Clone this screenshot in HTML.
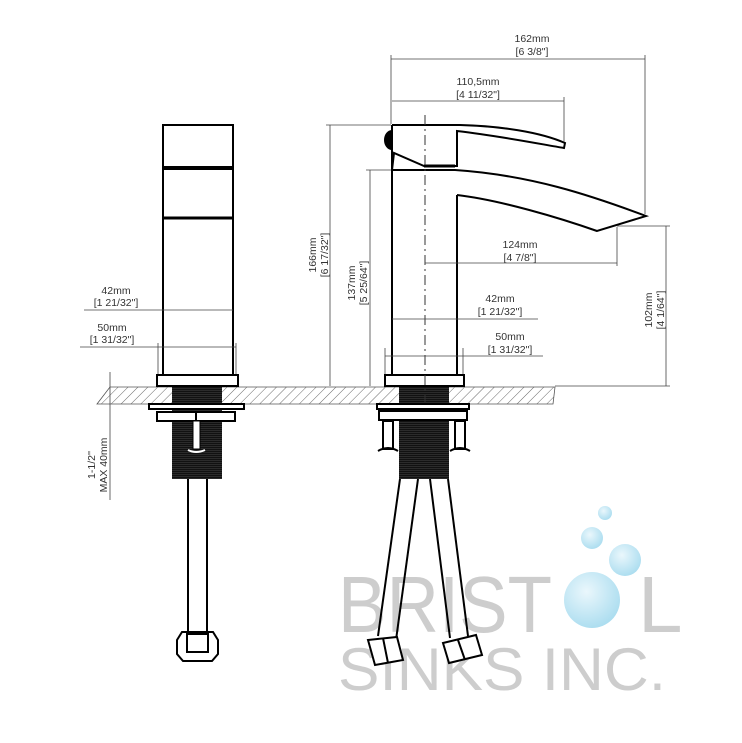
<!DOCTYPE html>
<html><head><meta charset="utf-8"><style>
html,body{margin:0;padding:0;background:#fff;}
svg{display:block;}
text{font-family:"Liberation Sans",sans-serif;}
.d{font-family:"DejaVu Sans Mono","Liberation Mono",monospace;font-size:10.5px;fill:#333;}
</style></head><body>
<svg width="742" height="743" viewBox="0 0 742 743" xmlns="http://www.w3.org/2000/svg">
<defs>
<pattern id="h" width="7" height="7" patternUnits="userSpaceOnUse" patternTransform="rotate(45)">
<line x1="0" y1="0" x2="0" y2="7" stroke="#444" stroke-width="0.8"/></pattern>
<pattern id="t" width="4" height="2" patternUnits="userSpaceOnUse">
<rect width="4" height="2" fill="#111"/><line x1="0" y1="0.5" x2="4" y2="0.5" stroke="#444" stroke-width="0.5"/></pattern>
<radialGradient id="b" cx="0.4" cy="0.35" r="0.7"><stop offset="0" stop-color="#eaf7fc"/><stop offset="1" stop-color="#a9dcef"/></radialGradient>
</defs>
<rect width="742" height="743" fill="#fff"/>

<!-- logo -->
<g fill="#cdcdcd">
<text x="338" y="632" font-size="80" textLength="214" lengthAdjust="spacingAndGlyphs">BRIST</text>
<text x="638" y="632" font-size="80">L</text>
<text x="338" y="690" font-size="60" textLength="328" lengthAdjust="spacingAndGlyphs">SINKS INC.</text>
</g>
<circle cx="592" cy="600" r="28" fill="url(#b)"/>
<circle cx="625" cy="560" r="16" fill="url(#b)"/>
<circle cx="592" cy="538" r="11" fill="url(#b)"/>
<circle cx="605" cy="513" r="7" fill="url(#b)"/>

<!-- countertop -->
<polygon points="110,387 555,387 553,404 97,404" fill="url(#h)" stroke="#555" stroke-width="0.8"/>

<g stroke="#000" fill="none" stroke-width="2">
<!-- left view body -->
<rect x="163" y="125" width="70" height="42" fill="#fff"/>
<rect x="163" y="169" width="70" height="206" fill="#fff"/>
<line x1="163" y1="218" x2="233" y2="218" stroke-width="3"/>
<rect x="157" y="375" width="81" height="11" fill="#fff"/>
<rect x="172" y="387" width="50" height="92" fill="url(#t)" stroke="none"/>
<rect x="149" y="404" width="95" height="5" fill="#fff"/>
<rect x="157" y="412" width="78" height="9" fill="#fff"/>
<line x1="196" y1="412" x2="196" y2="421"/>
<rect x="193" y="421" width="7" height="28" fill="#fff" stroke-width="1"/>
<path d="M188 450 q8 4 17 0" stroke="#fff"/>
<line x1="188" y1="479" x2="188" y2="632"/>
<line x1="207" y1="479" x2="207" y2="632"/>
<polygon points="182,632 213,632 218,640 218,654 212,661 183,661 177,654 177,640" fill="#fff"/>
<rect x="187" y="634" width="21" height="18"/>

<!-- right view -->
<line x1="392" y1="170" x2="392" y2="375"/>
<line x1="457" y1="195" x2="457" y2="375"/>
<rect x="385" y="375" width="79" height="11" fill="#fff"/>
<path d="M392 170 L455 170 C530 175 590 195 646 216 L597 231 C560 218 500 200 457 195" fill="#fff"/>
<path d="M392 125 L460 125 C500 126 540 132 565 143 L564 148 C540 144 500 136 457 131 L457 166 L424 166 L394 153 L392 170"/>
<path d="M392 131 A7 9 0 0 0 392 149 Z" fill="#000"/>
<line x1="392" y1="125" x2="392" y2="170"/>
<line x1="424" y1="166" x2="455" y2="166" stroke-width="3"/>
<rect x="399" y="387" width="50" height="92" fill="url(#t)" stroke="none"/>
<rect x="377" y="404" width="92" height="5" fill="#fff"/>
<rect x="379" y="411" width="88" height="9" fill="#fff"/>
<rect x="383" y="421" width="10" height="28" fill="#fff"/>
<rect x="455" y="421" width="10" height="28" fill="#fff"/>
<path d="M378 451 q10 -6 20 0"/><path d="M450 451 q10 -6 20 0"/>
<line x1="400" y1="479" x2="378" y2="636"/>
<line x1="418" y1="479" x2="396" y2="640"/>
<line x1="430" y1="479" x2="450" y2="638"/>
<line x1="448" y1="479" x2="468" y2="636"/>
<polygon points="368,640 397,637 403,660 375,665" fill="#fff"/>
<line x1="383" y1="638" x2="388" y2="663"/>
<polygon points="443,643 476,635 482,655 449,663" fill="#fff"/>
<line x1="458" y1="640" x2="465" y2="660"/>
</g>
<line x1="425" y1="115" x2="425" y2="402" stroke="#333" stroke-width="1" stroke-dasharray="10,4,2,4"/>

<!-- dimension lines -->
<g stroke="#444" stroke-width="0.8" fill="none">
<line x1="391" y1="55" x2="391" y2="124"/><line x1="645" y1="55" x2="645" y2="214"/><line x1="391" y1="59" x2="645" y2="59"/>
<line x1="564" y1="97" x2="564" y2="142"/><line x1="392" y1="101" x2="564" y2="101"/>
<line x1="326" y1="125" x2="391" y2="125"/><line x1="330" y1="125" x2="330" y2="386"/>
<line x1="366" y1="170" x2="391" y2="170"/><line x1="370" y1="170" x2="370" y2="386"/>
<line x1="617" y1="227" x2="617" y2="266"/><line x1="425" y1="263" x2="617" y2="263"/>
<line x1="617" y1="226" x2="670" y2="226"/><line x1="666" y1="226" x2="666" y2="386"/><line x1="555" y1="386" x2="670" y2="386"/>
<line x1="392" y1="319" x2="538" y2="319"/>
<line x1="385" y1="348" x2="385" y2="374"/><line x1="463" y1="348" x2="463" y2="374"/><line x1="385" y1="356" x2="543" y2="356"/>
<line x1="84" y1="310" x2="233" y2="310"/>
<line x1="80" y1="347" x2="236" y2="347"/><line x1="158" y1="343" x2="158" y2="374"/><line x1="236" y1="343" x2="236" y2="374"/>
<line x1="110" y1="372" x2="110" y2="500"/>
</g>
<g class="d" text-anchor="middle">
<text x="532" y="42">162mm</text><text x="532" y="55">[6 3/8"]</text>
<text x="478" y="85">110,5mm</text><text x="478" y="98">[4 11/32"]</text>
<text x="520" y="248">124mm</text><text x="520" y="261">[4 7/8"]</text>
<text x="500" y="302">42mm</text><text x="500" y="315">[1 21/32"]</text>
<text x="510" y="340">50mm</text><text x="510" y="353">[1 31/32"]</text>
<text x="116" y="294">42mm</text><text x="116" y="306">[1 21/32"]</text>
<text x="112" y="331">50mm</text><text x="112" y="343">[1 31/32"]</text>
<text transform="translate(316,255) rotate(-90)">166mm</text><text transform="translate(328,255) rotate(-90)">[6 17/32"]</text>
<text transform="translate(355,283) rotate(-90)">137mm</text><text transform="translate(367,283) rotate(-90)">[5 25/64"]</text>
<text transform="translate(652,310) rotate(-90)">102mm</text><text transform="translate(664,310) rotate(-90)">[4 1/64"]</text>
<text transform="translate(95,465) rotate(-90)">1-1/2''</text><text transform="translate(107,465) rotate(-90)">MAX 40mm</text>
</g>
</svg>
</body></html>
